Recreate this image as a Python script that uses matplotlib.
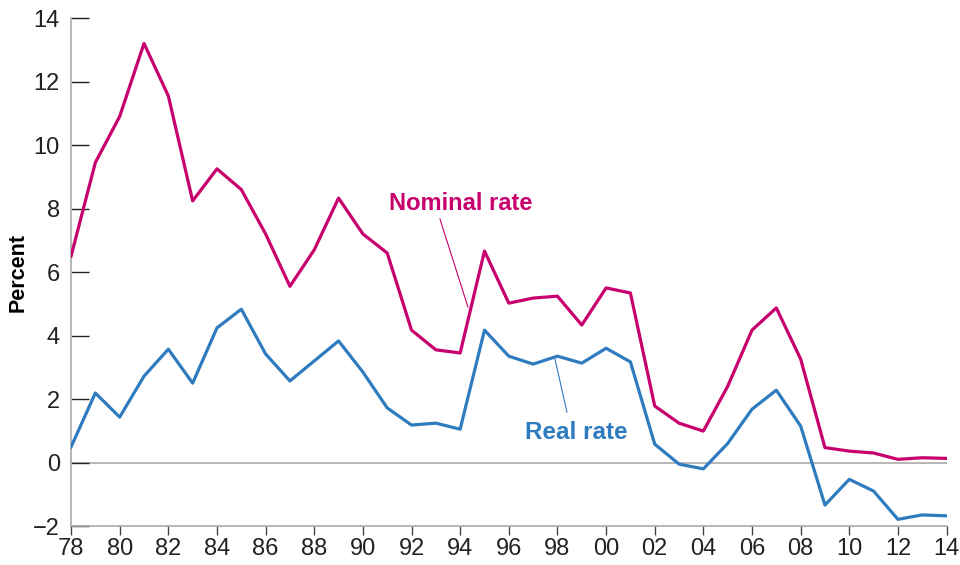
import matplotlib
matplotlib.use("Agg")
import matplotlib.pyplot as plt

plt.rcParams['font.family'] = ['Liberation Sans', 'DejaVu Sans']

years = list(range(1978, 2015))
nominal = [6.5, 9.45, 10.9, 13.2, 11.55, 8.24, 9.25, 8.6, 7.2, 5.55,
           6.7, 8.33, 7.2, 6.6, 4.17, 3.55, 3.45, 6.66, 5.02, 5.18,
           5.24, 4.33, 5.5, 5.34, 1.78, 1.24, 0.99, 2.4, 4.17, 4.87,
           3.26, 0.47, 0.36, 0.3, 0.1, 0.15, 0.13]
real = [0.49, 2.19, 1.43, 2.72, 3.57, 2.5, 4.24, 4.83, 3.42, 2.57,
        3.2, 3.83, 2.85, 1.72, 1.18, 1.24, 1.05, 4.17, 3.35, 3.1,
        3.35, 3.13, 3.6, 3.17, 0.58, -0.05, -0.2, 0.6, 1.68, 2.28,
        1.15, -1.34, -0.53, -0.9, -1.79, -1.65, -1.68]
xtick_years = list(range(1978, 2015, 2))
xtick_labels = ['%02d' % (y % 100) for y in xtick_years]
yticks = [-2, 0, 2, 4, 6, 8, 10, 12, 14]

magenta = '#C8006E'
blue = '#2F7BBF'

fig = plt.figure(figsize=(9.6, 5.65), dpi=100)
ax = fig.add_axes([0.074, 0.069, 0.912, 0.899])

ax.axhline(0, color='#aaaaaa', lw=1.2, zorder=1)
ax.plot(years, nominal, color=magenta, lw=2.3, zorder=3)
ax.plot(years, real, color=blue, lw=2.3, zorder=3)

ax.set_xlim(1978, 2014)
ax.set_ylim(-2, 14)
ax.set_xticks(xtick_years)
ax.set_xticklabels(xtick_labels)
ax.set_yticks(yticks)
ax.set_yticklabels([str(v).replace('-', '\u2212') for v in yticks])

for s in ['top', 'right']:
    ax.spines[s].set_visible(False)
for s in ['left', 'bottom']:
    ax.spines[s].set_color('#aaaaaa')
    ax.spines[s].set_linewidth(1.2)

ax.tick_params(axis='y', direction='in', length=13, width=1, color='#222222',
               labelsize=17, labelcolor='#222222', pad=8)
ax.tick_params(axis='x', direction='out', length=6.5, width=1, color='#444444',
               labelsize=17, labelcolor='#222222', pad=2)

ax.set_ylabel('Percent', fontsize=15.5, fontweight='bold', labelpad=3)

ax.text(1994.03, 8.17, 'Nominal rate', color=magenta, fontsize=17,
        fontweight='bold', ha='center', va='center')
ax.plot([1993.17, 1994.32], [7.67, 4.9], color=magenta, lw=0.8, zorder=2)
ax.text(1998.76, 0.96, 'Real rate', color=blue, fontsize=17.5,
        fontweight='bold', ha='center', va='center')
ax.plot([1997.89, 1998.39], [3.29, 1.59], color=blue, lw=0.8, zorder=2)

fig.savefig('out.png', dpi=100)
